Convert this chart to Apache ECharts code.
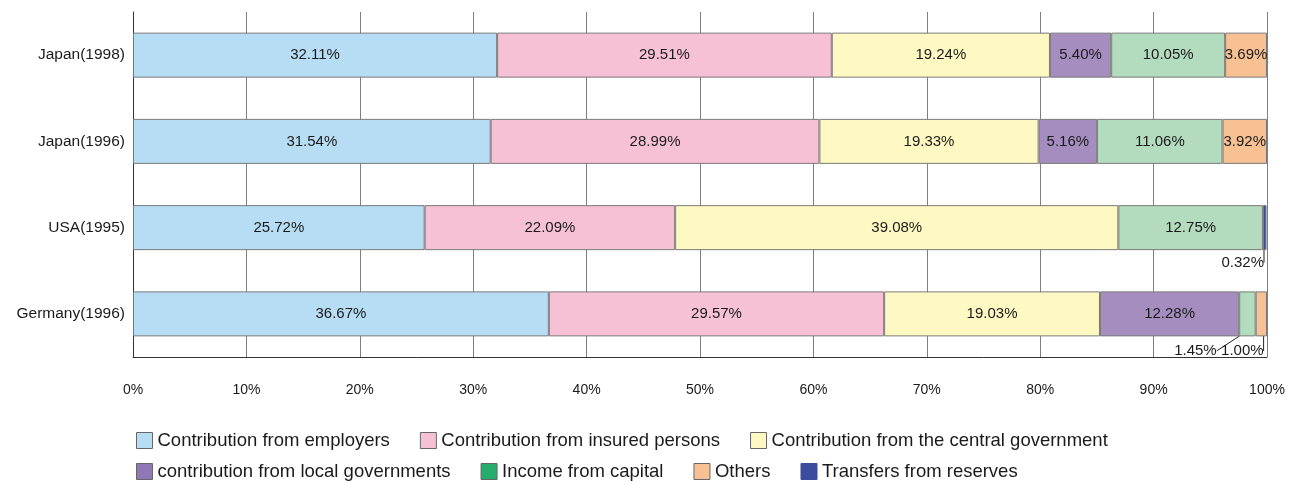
<!DOCTYPE html>
<html>
<head>
<meta charset="utf-8">
<script src="https://cdn.jsdelivr.net/npm/echarts@6/dist/echarts.min.js"></script>
<style>
html,body{margin:0;padding:0;background:#fff;}
#chart{width:1295px;height:485px;}
</style>
</head>
<body>
<div id="chart"></div>
<script>
var categories = ['Japan(1998)', 'Japan(1996)', 'USA(1995)', 'Germany(1996)'];
var seriesNames = [
  'Contribution from employers',
  'Contribution from insured persons',
  'Contribution from the central government',
  'contribution from local governments',
  'Income from capital',
  'Others',
  'Transfers from reserves'
];
var employers = [32.11, 31.54, 25.72, 36.67];
var insured   = [29.51, 28.99, 22.09, 29.57];
var central   = [19.24, 19.33, 39.08, 19.03];
var local     = [5.40, 5.16, '-', 12.28];
var capital   = [10.05, 11.06, 12.75, 1.45];
var others    = [3.69, 3.92, '-', 1.00];
var reserves  = ['-', '-', 0.32, '-'];
var xTicks = [0, 10, 20, 30, 40, 50, 60, 70, 80, 90, 100];

var values = [employers, insured, central, local, capital, others, reserves];
var colors = ['#b6ddf4', '#f6c1d4', '#fef9c2', '#a58ebf', '#b3dbbd', '#f8c193', '#3c4da0'];
var legendColors = ['#b6ddf4', '#f6c1d4', '#fef9c2', '#8f78b5', '#27ad6b', '#f8c193', '#3c4da0'];

// label offsets for the small segments whose labels sit below the bar
var outsideLabels = {
  '6|2': [-22, 35],
  '4|3': [-52, 37],
  '5|3': [-19, 37]
};

var FONT = "'Liberation Sans',Arial,sans-serif";

var series = values.map(function (arr, si) {
  return {
    name: seriesNames[si],
    type: 'bar',
    stack: 'total',
    barWidth: 45,
    itemStyle: { color: colors[si], borderColor: '#7a7a7a', borderWidth: 1 },
    label: {
      show: true,
      position: 'inside',
      color: '#1a1a1a',
      fontFamily: FONT,
      fontSize: 15,
      formatter: function (p) { return Number(p.value).toFixed(2) + '%'; }
    },
    labelLayout: function (p) {
      var k = p.seriesIndex + '|' + p.dataIndex;
      if (outsideLabels[k]) {
        return { dx: outsideLabels[k][0], dy: outsideLabels[k][1] };
      }
      return {};
    },
    data: arr.map(function (v, di) {
      var k = si + '|' + di;
      if (outsideLabels[k]) {
        return { value: v, labelLine: { show: true, minTurnAngle: 0, lineStyle: { color: '#222', width: 1 } } };
      }
      return v;
    })
  };
});

function legendData(from, to) {
  var out = [];
  for (var i = from; i < to; i++) {
    out.push({ name: seriesNames[i], itemStyle: { color: legendColors[i], borderColor: i === 6 ? legendColors[i] : '#666', borderWidth: 1 } });
  }
  return out;
}

var chart = echarts.init(document.getElementById('chart'), null, { renderer: 'canvas' });
chart.setOption({
  animation: false,
  backgroundColor: '#fff',
  grid: { left: 133, right: 28, top: 12, bottom: 128, containLabel: false, outerBoundsMode: 'none' },
  legend: [
    {
      data: legendData(0, 3), left: 131, top: 426, icon: 'rect', itemWidth: 16, itemHeight: 16, itemGap: 30,
      textStyle: { fontFamily: FONT, fontSize: 18.5, color: '#1a1a1a' }
    },
    {
      data: legendData(3, 7), left: 131, top: 457, icon: 'rect', itemWidth: 16, itemHeight: 16, itemGap: 30,
      textStyle: { fontFamily: FONT, fontSize: 18.5, color: '#1a1a1a' }
    }
  ],
  xAxis: {
    type: 'value',
    min: xTicks[0],
    max: xTicks[xTicks.length - 1],
    interval: xTicks[1] - xTicks[0],
    axisLine: { show: true, lineStyle: { color: '#333', width: 1 } },
    axisTick: { show: false },
    splitLine: { show: true, lineStyle: { color: '#7f7f7f', width: 1 } },
    axisLabel: { margin: 26, fontFamily: FONT, fontSize: 14, color: '#1a1a1a', formatter: '{value}%' }
  },
  yAxis: {
    type: 'category',
    inverse: true,
    data: categories,
    axisLine: { show: true, lineStyle: { color: '#333', width: 1 } },
    axisTick: { show: false },
    splitLine: { show: false },
    axisLabel: { margin: 8, fontFamily: FONT, fontSize: 15.5, color: '#1a1a1a' }
  },
  series: series
});
</script>
</body>
</html>
